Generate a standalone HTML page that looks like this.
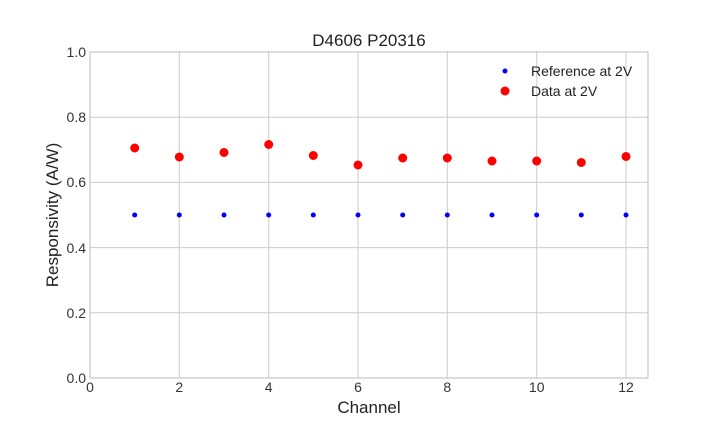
<!DOCTYPE html>
<html><head><meta charset="utf-8"><style>
body{margin:0;background:#fff}
svg{display:block;font-family:"Liberation Sans","DejaVu Sans",sans-serif}
</style></head><body>
<svg width="720" height="432" viewBox="0 0 720 432" xmlns="http://www.w3.org/2000/svg">
<rect width="720" height="432" fill="#fff"/>
<g stroke="#cccccc" stroke-width="1">
<line x1="179.3" y1="52" x2="179.3" y2="378"/>
<line x1="268.7" y1="52" x2="268.7" y2="378"/>
<line x1="358" y1="52" x2="358" y2="378"/>
<line x1="447.3" y1="52" x2="447.3" y2="378"/>
<line x1="536.7" y1="52" x2="536.7" y2="378"/>
<line x1="626" y1="52" x2="626" y2="378"/>
<line x1="90" y1="117.2" x2="648" y2="117.2"/>
<line x1="90" y1="182.4" x2="648" y2="182.4"/>
<line x1="90" y1="247.6" x2="648" y2="247.6"/>
<line x1="90" y1="312.8" x2="648" y2="312.8"/>
</g>
<rect x="90" y="52" width="558" height="326" fill="none" stroke="#bbbbbb" stroke-width="1"/>
<g font-size="14" fill="#333">
<g text-anchor="middle">
<text x="90" y="392">0</text><text x="179.3" y="392">2</text><text x="268.7" y="392">4</text>
<text x="358" y="392">6</text><text x="447.3" y="392">8</text><text x="536.7" y="392">10</text><text x="626" y="392">12</text>
</g>
<g text-anchor="end">
<text x="86" y="383">0.0</text><text x="86" y="318">0.2</text><text x="86" y="253">0.4</text>
<text x="86" y="187">0.6</text><text x="86" y="122">0.8</text><text x="86" y="57">1.0</text>
</g>
</g>
<text x="369" y="413" font-size="17" text-anchor="middle" fill="#222">Channel</text>
<text x="58" y="215" font-size="17" text-anchor="middle" fill="#222" transform="rotate(-90 58 215)">Responsivity (A/W)</text>
<text x="369" y="46" font-size="17" text-anchor="middle" fill="#222">D4606 P20316</text>
<g fill="#0000ff">
<circle cx="134.7" cy="215" r="2.5"/><circle cx="179.3" cy="215" r="2.5"/><circle cx="224" cy="215" r="2.5"/>
<circle cx="268.7" cy="215" r="2.5"/><circle cx="313.3" cy="215" r="2.5"/><circle cx="358" cy="215" r="2.5"/>
<circle cx="402.7" cy="215" r="2.5"/><circle cx="447.3" cy="215" r="2.5"/><circle cx="492" cy="215" r="2.5"/>
<circle cx="536.7" cy="215" r="2.5"/><circle cx="581.3" cy="215" r="2.5"/><circle cx="626" cy="215" r="2.5"/>
<circle cx="505" cy="71" r="2.5"/>
</g>
<g fill="#ff0000">
<circle cx="134.7" cy="148" r="4.5"/><circle cx="179.3" cy="157" r="4.5"/><circle cx="224" cy="152.5" r="4.5"/>
<circle cx="268.7" cy="144.5" r="4.5"/><circle cx="313.3" cy="155.5" r="4.5"/><circle cx="358" cy="165" r="4.5"/>
<circle cx="402.7" cy="158" r="4.5"/><circle cx="447.3" cy="158" r="4.5"/><circle cx="492" cy="161" r="4.5"/>
<circle cx="536.7" cy="161" r="4.5"/><circle cx="581.3" cy="162.5" r="4.5"/><circle cx="626" cy="156.5" r="4.5"/>
<circle cx="505" cy="91" r="4.5"/>
</g>
<text x="531" y="76" font-size="14" fill="#222">Reference at 2V</text>
<text x="531" y="96" font-size="14" fill="#222">Data at 2V</text>
</svg>
</body></html>
